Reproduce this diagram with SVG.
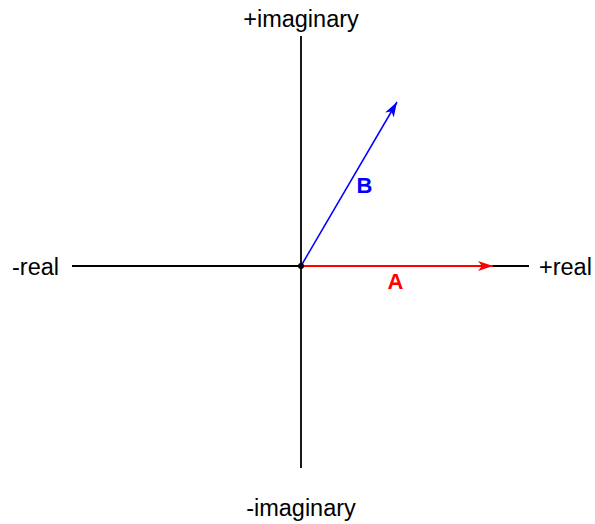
<svg xmlns="http://www.w3.org/2000/svg" width="595" height="524" viewBox="0 0 595 524">
<style>
.lbl{font-family:"Liberation Sans",Arial,sans-serif;font-size:23.5px;fill:#000}
.vl{font-family:"Liberation Sans",Arial,sans-serif;font-size:22px;font-weight:bold}
.axis{stroke:#000;stroke-width:1.8;fill:none}
</style>
<defs>
<marker id="ar" markerWidth="16" markerHeight="10" refX="15" refY="5" orient="auto" markerUnits="userSpaceOnUse">
<path d="M0,0 L15,5 L0,10 L4,5 Z" fill="#ff0000"/>
</marker>
<marker id="ab" markerWidth="16" markerHeight="10" refX="15" refY="5" orient="auto" markerUnits="userSpaceOnUse">
<path d="M0,0 L15,5 L0,10 L4,5 Z" fill="#0000ff"/>
</marker>
</defs>
<g id="connectors">
<line class="axis" x1="72" y1="266" x2="529" y2="266"/>
<line class="axis" x1="301" y1="36" x2="301" y2="468"/>
<line id="vecA" x1="301" y1="266" x2="493" y2="266" stroke="#ff0000" stroke-width="2" marker-end="url(#ar)"/>
<line id="vecB" x1="301" y1="266" x2="397" y2="102" stroke="#0000ff" stroke-width="1.5" marker-end="url(#ab)"/>
</g>
<g id="origin"><circle cx="301" cy="266" r="3" fill="#000"/></g>
<g id="pimag"><text class="lbl" x="301" y="27" text-anchor="middle">+imaginary</text></g>
<g id="nimag"><text class="lbl" x="301" y="516" text-anchor="middle">-imaginary</text></g>
<g id="nreal"><text class="lbl" x="12" y="275">-real</text></g>
<g id="preal"><text class="lbl" x="539" y="275">+real</text></g>
<g id="labelA"><text class="vl" x="395.5" y="289" text-anchor="middle" fill="#ff0000">A</text></g>
<g id="labelB"><text class="vl" x="364.5" y="193" text-anchor="middle" fill="#0000ff">B</text></g>
</svg>
